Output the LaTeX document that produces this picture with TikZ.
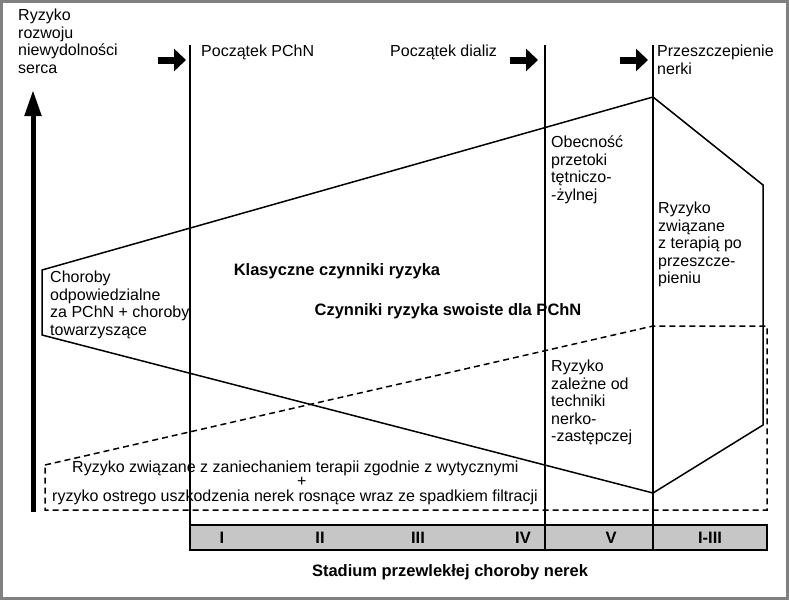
\documentclass[tikz,border=0pt]{standalone}
\usepackage{fontspec}
\setmainfont{Liberation Sans}
\usetikzlibrary{arrows.meta}
\tikzset{
  lbl/.style={align=left,anchor=north west,inner sep=0pt,font=\fontsize{16}{17.5}\selectfont},
  bld/.style={inner sep=0pt,font=\fontsize{16.5}{18}\selectfont\bfseries},
  stage/.style={line width=1.2pt},
  fatarrow/.style={-{Triangle[length=12pt,width=22pt]},line width=7pt},
}
\begin{document}
\begin{tikzpicture}[x=1pt,y=-1pt]
\useasboundingbox (0,0) rectangle (789,600);
\draw[gray,line width=3pt] (1.5,1.5) rectangle (787.5,598.5);
% stadia
\draw[fill=gray!45,line width=1.5pt] (190,525) rectangle (767,550);
\foreach \x in {190,545,653} \draw[stage] (\x,45) -- (\x,550);
\foreach \x/\t in {222/I,320/II,418/III,523/IV,611/V,710/I-III}
  \node[bld] at (\x,538) {\t};
\node[bld] (os) at (450,572) {Stadium przewlekłej choroby nerek};
% oś ryzyka
\coordinate (dol) at (33,512);
\coordinate (gora) at (33,90);
\draw[-{Triangle[length=26pt,width=16pt]},line width=5pt] (dol) -- (gora);
\node[lbl] (ryz) at (18,9) {Ryzyko\\rozwoju\\niewydolności\\serca};
% zdarzenia
\foreach \x in {158,510,620}{
  \coordinate (a\x) at (\x,60);
  \coordinate (b\x) at (\x+28,60);
  \draw[fatarrow] (a\x) -- (b\x);
}
\node[lbl] at (201,45) {Początek PChN};
\node[lbl] at (390,45) {Początek dializ};
\node[lbl] at (657,45) {Przeszczepienie\\nerki};
% obszary ryzyka
\draw[line width=1.5pt] (42,270) -- (653,97) -- (763,185) -- (763,425) -- (653,493) -- (42,335) -- cycle;
\draw[line width=1.5pt,dash pattern=on 6pt off 4pt] (45,465) -- (653,326) -- (767,326) -- (767,510) -- (45,510) -- cycle;
\node[lbl] at (50,271) {Choroby\\odpowiedzialne\\za PChN + choroby\\towarzyszące};
\node[bld] at (337,271) {Klasyczne czynniki ryzyka};
\node[bld] at (448,311) {Czynniki ryzyka swoiste dla PChN};
\node[lbl] at (551,136) {Obecność\\przetoki\\tętniczo-\\-żylnej};
\node[lbl] at (658,202) {Ryzyko\\związane\\z terapią po\\przeszcze-\\pieniu};
\node[lbl] at (551,360) {Ryzyko\\zależne od\\techniki\\nerko-\\-zastępczej};
\node[lbl] at (72,461) {Ryzyko związane z zaniechaniem terapii zgodnie z wytycznymi};
\node[lbl] at (297,477) {+};
\node[lbl] at (52,490) {ryzyko ostrego uszkodzenia nerek rosnące wraz ze spadkiem filtracji};
\end{tikzpicture}
\end{document}
